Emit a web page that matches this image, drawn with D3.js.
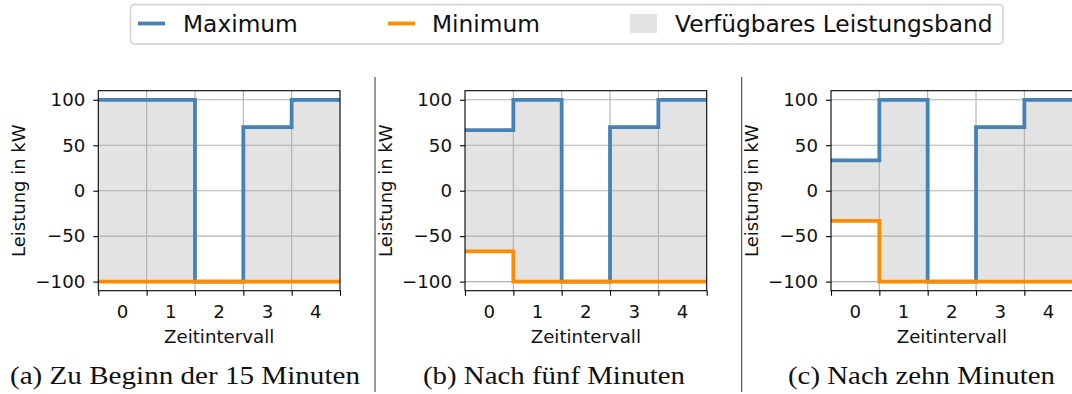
<!DOCTYPE html>
<html>
<head>
<meta charset="utf-8">
<script src="https://cdn.jsdelivr.net/npm/d3@7"></script>
<style>
  html, body { margin: 0; padding: 0; background: #fff; }
  svg { display: block; }
</style>
</head>
<body>
<div id="chart"></div>
<script>
// Time intervals (0..4) and their tick labels
const intervals = [0, 1, 2, 3, 4];
const xTickLabels = ["0", "1", "2", "3", "4"];
const yTicks = [-100, -50, 0, 50, 100];

// Upper and lower power limits per interval, in kW
const maxStart = [100, 100, -100, 70, 100];
const minStart = [-100, -100, -100, -100, -100];
const maxFive = [66.7, 100, -100, 70, 100];
const minFive = [-66.7, -100, -100, -100, -100];
const maxTen = [33.3, 100, -100, 70, 100];
const minTen = [-33.3, -100, -100, -100, -100];

const captions = ["(a) Zu Beginn der 15 Minuten", "(b) Nach fünf Minuten", "(c) Nach zehn Minuten"];
const legendLabels = ["Maximum", "Minimum", "Verfügbares Leistungsband"];

const colMax = "#4682b4";
const colMin = "#ff8c00";
const colBand = "#e3e3e3";
const colGrid = "#b0b0b0";

const W = 1072, H = 394;
const svg = d3.select("#chart").append("svg").attr("width", W).attr("height", H);

const panels = [
  { left: 98.3, max: maxStart, min: minStart, caption: captions[0], capX: 10, capW: 350 },
  { left: 465, max: maxFive, min: minFive, caption: captions[1], capX: 423, capW: 262 },
  { left: 831, max: maxTen, min: minTen, caption: captions[2], capX: 788, capW: 267 }
];
const axW = 241.7, axTop = 90.7, axBottom = 290.7;
const tickFont = "'DejaVu Sans', sans-serif";
const fmt = v => (v < 0 ? "\u2212" + Math.abs(v) : String(v));

panels.forEach(p => {
  const x = d3.scaleLinear().domain([0, 5]).range([p.left, p.left + axW]);
  const y = d3.scaleLinear().domain([-110, 110]).range([axBottom, axTop]);
  const g = svg.append("g");

  // step points, last value held to the end of interval 4
  const pts = intervals.map(i => ({ x: i, hi: p.max[i], lo: p.min[i] }));
  pts.push({ x: 5, hi: p.max[4], lo: p.min[4] });

  // available power band
  g.append("path")
    .datum(pts)
    .attr("fill", colBand)
    .attr("d", d3.area().curve(d3.curveStepAfter).x(d => x(d.x)).y0(d => y(d.lo)).y1(d => y(d.hi)));

  // grid
  g.selectAll(".gx").data([1, 2, 3, 4]).enter().append("line")
    .attr("x1", d => x(d)).attr("x2", d => x(d)).attr("y1", axTop).attr("y2", axBottom)
    .attr("stroke", colGrid).attr("stroke-width", 1.1);
  g.selectAll(".gy").data(yTicks).enter().append("line")
    .attr("x1", p.left).attr("x2", p.left + axW).attr("y1", d => y(d)).attr("y2", d => y(d))
    .attr("stroke", colGrid).attr("stroke-width", 1.1);

  // limit lines
  g.append("path").datum(pts)
    .attr("fill", "none").attr("stroke", colMax).attr("stroke-width", 3.8)
    .attr("d", d3.line().curve(d3.curveStepAfter).x(d => x(d.x)).y(d => y(d.hi)));
  g.append("path").datum(pts)
    .attr("fill", "none").attr("stroke", colMin).attr("stroke-width", 3.8)
    .attr("d", d3.line().curve(d3.curveStepAfter).x(d => x(d.x)).y(d => y(d.lo)));

  // frame
  g.append("rect").attr("x", p.left).attr("y", axTop).attr("width", axW).attr("height", axBottom - axTop)
    .attr("fill", "none").attr("stroke", "#000").attr("stroke-width", 1.1);

  // y axis
  const ya = g.append("g").attr("transform", `translate(${p.left},0)`)
    .call(d3.axisLeft(y).tickValues(yTicks).tickSize(5).tickPadding(8).tickFormat(fmt));
  ya.select(".domain").remove();
  ya.selectAll("line").attr("stroke", "#000").attr("stroke-width", 1.1);
  ya.selectAll("text").attr("font-family", tickFont).attr("font-size", 18.2).attr("fill", "#111");

  // x axis: ticks on interval borders, labels centred in each interval
  const xa = g.append("g").attr("transform", `translate(0,${axBottom})`)
    .call(d3.axisBottom(x).tickValues([0, 1, 2, 3, 4, 5]).tickSize(5).tickFormat(""));
  xa.select(".domain").remove();
  xa.selectAll("line").attr("stroke", "#000").attr("stroke-width", 1.1);
  g.selectAll(".xl").data(intervals).enter().append("text")
    .attr("x", d => x(d + 0.5)).attr("y", 318)
    .attr("text-anchor", "middle").attr("font-family", tickFont).attr("font-size", 18.2).attr("fill", "#111")
    .text(d => xTickLabels[d]);

  g.append("text").attr("x", x(2.5)).attr("y", 343)
    .attr("text-anchor", "middle").attr("font-family", tickFont).attr("font-size", 18.2).attr("fill", "#111")
    .text("Zeitintervall");
  g.append("text")
    .attr("transform", `translate(${p.left - 73},${(axTop + axBottom) / 2}) rotate(-90)`)
    .attr("text-anchor", "middle").attr("font-family", tickFont).attr("font-size", 18).attr("fill", "#111")
    .text("Leistung in kW");

  // caption
  g.append("text").attr("x", p.capX).attr("y", 384)
    .attr("textLength", p.capW).attr("lengthAdjust", "spacingAndGlyphs")
    .attr("font-family", "'Liberation Serif', serif").attr("font-size", 24.5)
    .attr("fill", "#111").text(p.caption);
});

// separators between subfigures
[375, 741.7].forEach(sx => {
  svg.append("line").attr("x1", sx).attr("x2", sx).attr("y1", 77).attr("y2", 392)
    .attr("stroke", "#333").attr("stroke-width", 1);
});

// legend
const lg = svg.append("g");
lg.append("rect").attr("x", 130.5).attr("y", 4.5).attr("width", 872.5).attr("height", 39.5)
  .attr("rx", 4).attr("fill", "#fff").attr("stroke", "#d0d0d0").attr("stroke-width", 1.5);
lg.append("line").attr("x1", 138).attr("x2", 165).attr("y1", 23.5).attr("y2", 23.5)
  .attr("stroke", colMax).attr("stroke-width", 3.8);
lg.append("line").attr("x1", 388).attr("x2", 415).attr("y1", 23.5).attr("y2", 23.5)
  .attr("stroke", colMin).attr("stroke-width", 3.8);
lg.append("rect").attr("x", 630).attr("y", 14).attr("width", 27).attr("height", 19).attr("fill", colBand);
[[183, legendLabels[0]], [432, legendLabels[1]], [675, legendLabels[2]]].forEach(([lx, t]) => {
  lg.append("text").attr("x", lx).attr("y", 31.5).attr("font-family", tickFont).attr("font-size", 23.3)
    .attr("fill", "#111").text(t);
});
</script>
</body>
</html>
